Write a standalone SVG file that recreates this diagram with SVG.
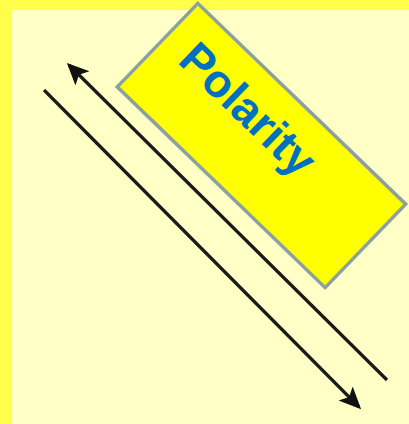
<svg xmlns="http://www.w3.org/2000/svg" width="409" height="424" viewBox="0 0 409 424">
  <style>
    .conn { stroke: #1a1a1a; stroke-width: 3.2; fill: none; }
    .box { fill: #FFFF00; stroke: #8C9FA3; stroke-width: 3.5; }
    .label { font-family: "Liberation Sans", Arial, sans-serif; font-weight: bold; font-size: 46px; fill: #0070C0; }
  </style>
  <defs>
    <marker id="arrow" markerUnits="userSpaceOnUse" markerWidth="24" markerHeight="22" refX="19" refY="10" orient="auto">
      <path d="M0,0 L22,10 L0,20 L5,10 z" fill="#111"/>
    </marker>
  </defs>
  <rect x="0" y="0" width="409" height="424" fill="#FFFF4A"/>
  <rect x="12" y="10" width="397" height="414" fill="#FFFFC6"/>
  <g id="connectors">
    <line class="conn" x1="44" y1="90" x2="359" y2="407" marker-end="url(#arrow)"/>
    <line class="conn" x1="387" y1="380" x2="69" y2="65" marker-end="url(#arrow)"/>
  </g>
  <g id="polarity" transform="translate(261.5,145.5) rotate(44)">
    <rect class="box" x="-144.5" y="-58" width="289" height="116"/>
    <text class="label" x="-119" y="-1">Polarity</text>
  </g>
</svg>
